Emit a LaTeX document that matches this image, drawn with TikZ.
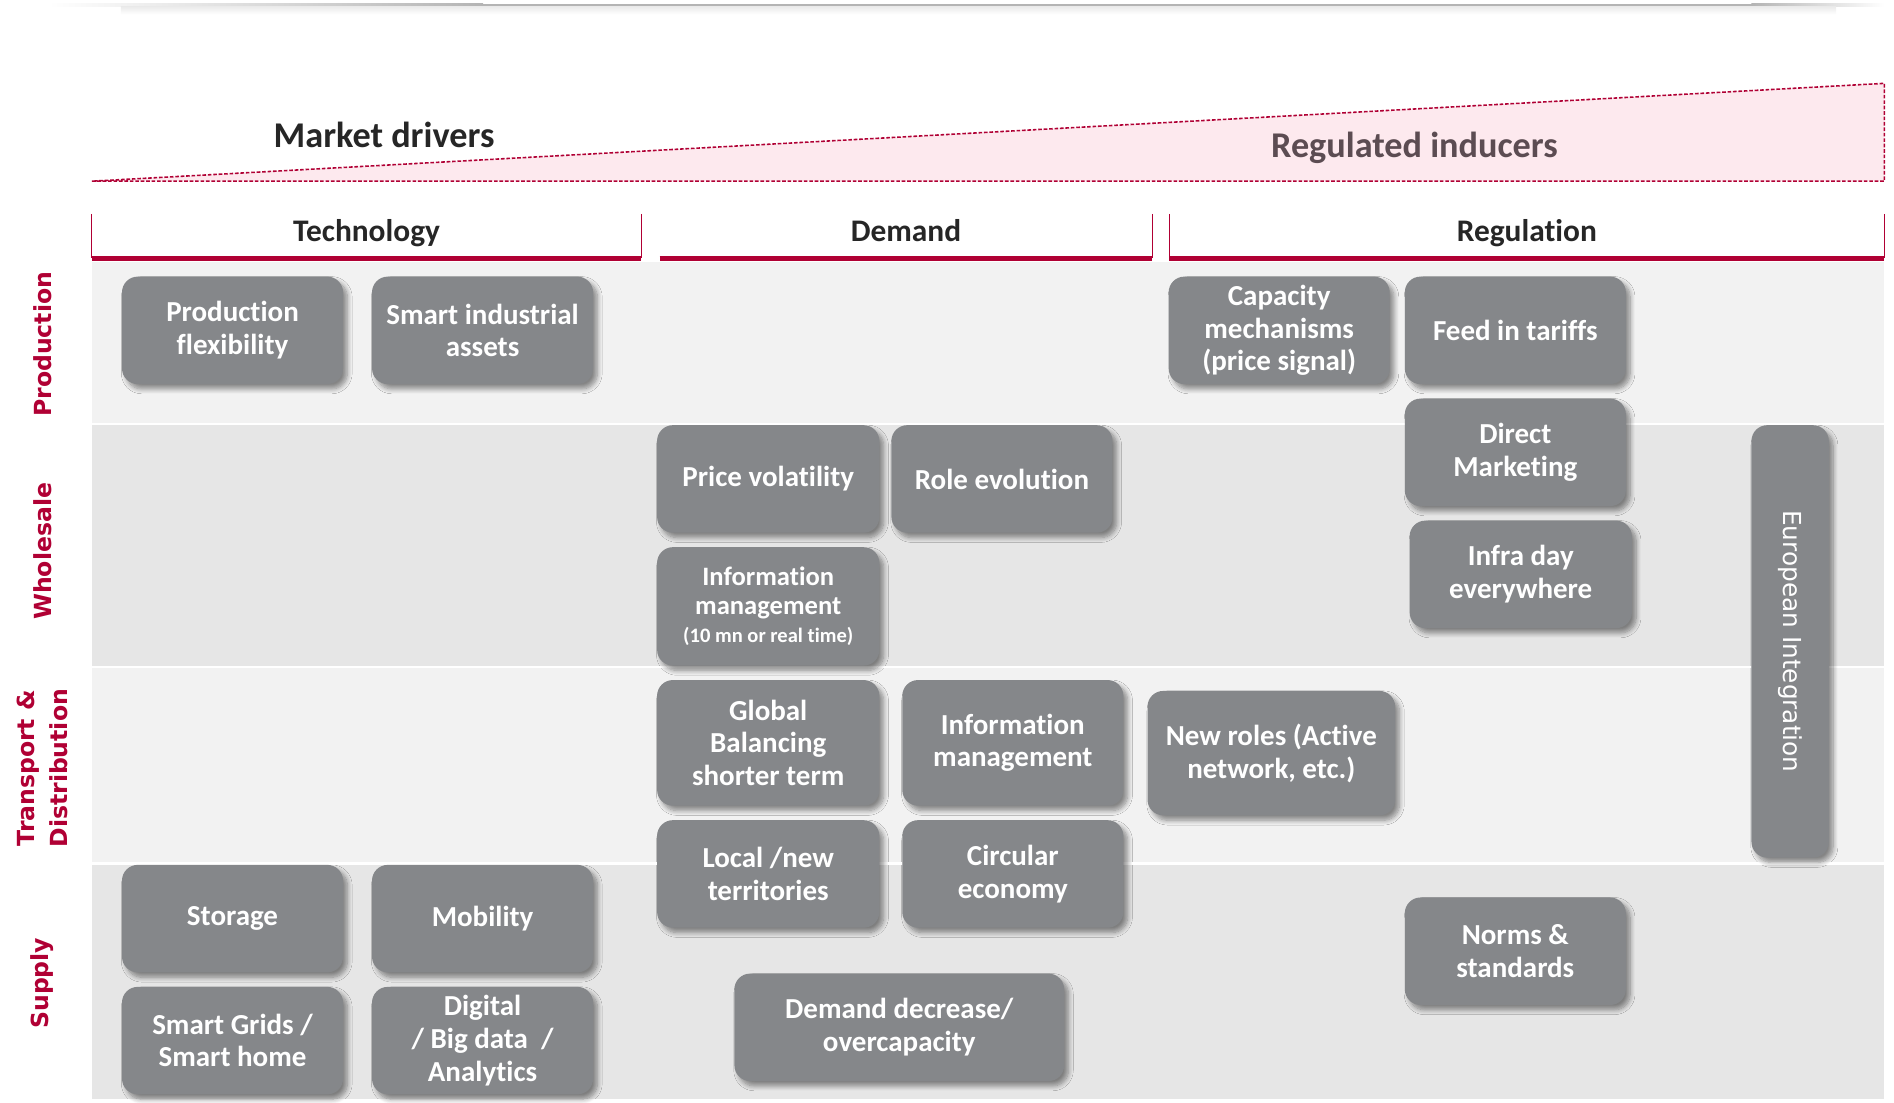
\documentclass[tikz,border=0pt]{standalone}
\usepackage{fontspec}
\usepackage{graphicx}
\usepackage{tikz}
\usetikzlibrary{shadows.blur}
\setmainfont{Carlito}[Ligatures=NoCommon]
\newfontfamily\labelfont{DejaVu Sans}

\definecolor{crimson}{HTML}{B00034}
\definecolor{boxgray}{HTML}{85878A}
\definecolor{bandlight}{HTML}{F2F2F2}
\definecolor{banddark}{HTML}{E6E6E6}
\definecolor{pinkfill}{HTML}{FDE9EE}
\definecolor{inducer}{HTML}{5C4C52}
\definecolor{rulegray}{HTML}{B4B4B4}

\begin{document}
\begin{tikzpicture}[x=1pt,y=-1pt,
    box/.style={rounded corners=13pt, fill=boxgray, text=white, align=center,
      font=\bfseries\fontsize{24}{27}\selectfont,
      minimum width=183pt, minimum height=89pt, inner sep=2pt,
      blur shadow={shadow xshift=3.5pt, shadow yshift=-4pt, shadow opacity=45,
        shadow blur radius=4pt, shadow blur steps=8}},
    colhead/.style={font=\bfseries\fontsize{26}{30}\selectfont, text=black!85,
      text height=17pt, text depth=5pt},
    rowlabel/.style={rotate=90, align=center, text=crimson,
      font=\labelfont\bfseries\fontsize{19.5}{27}\selectfont},
    headline/.style={draw=crimson, line width=0.8pt}]
  \useasboundingbox (0,0) rectangle (1568,913);

  % grey rule along the top edge, fading out at both ends
  \shade[left color=white, right color=rulegray] (40,3) rectangle (400,5.5);
  \fill[rulegray] (400,3) rectangle (1450,5.5);
  \shade[left color=rulegray, right color=white] (1450,3) rectangle (1560,5.5);
  \shade[top color=black!8, bottom color=white] (100,5.5) rectangle (1520,12);

  % market / regulation wedge
  \filldraw[fill=pinkfill, draw=crimson, line width=1.3pt, dash pattern=on 3pt off 1.5pt]
    (76,150) -- (1560,150) -- (1560,69) -- cycle;
  \node[font=\bfseries\fontsize{30}{34}\selectfont, text=black!85] (market) at (318,112) {Market drivers};
  \node[font=\bfseries\fontsize{30}{34}\selectfont, text=inducer] (regul) at (1171,122) {Regulated inducers};

  % column headers
  \draw[headline] (76,177) -- (76,214);
  \draw[headline] (531,177) -- (531,214);
  \draw[headline] (954,177) -- (954,214);
  \draw[headline] (968,177) -- (968,214);
  \draw[headline] (1560,177) -- (1560,214);
  \draw[crimson, line width=4.5pt] (76,214) -- (531,214);
  \draw[crimson, line width=4.5pt] (546,214) -- (954,214);
  \draw[crimson, line width=4.5pt] (968,214) -- (1560,214);
  \node[colhead] (tech) at (303.5,194) {Technology};
  \node[colhead] (demand) at (750,194) {Demand};
  \node[colhead] (regulation) at (1264,194) {Regulation};

  % row bands
  \fill[bandlight] (76,217) rectangle (1560,350);
  \fill[banddark] (76,352) rectangle (1560,551);
  \fill[bandlight] (76,553) rectangle (1560,714);
  \fill[banddark] (76,716) rectangle (1560,910);

  % row labels
  \node[rowlabel] (prod) at (35,285) {Production};
  \node[rowlabel] (whole) at (35,456.5) {Wholesale};
  \node[rowlabel] (td) at (35,636) {Transport \&\\Distribution};
  \node[rowlabel] (supply) at (35,814) {Supply};

  % production
  \node[box] (prodflex) at (192.5,273.5) {Production\\flexibility};
  \node[box] (smartind) at (399.5,273.5) {Smart industrial\\assets};
  \node[box] (capmech) at (1059,273.5) {Capacity\\mechanisms\\(price signal)};
  \node[box] (feedin) at (1254.5,273.5) {Feed in tariffs};

  % wholesale
  \node[box] (directmkt) at (1254.5,374.5) {Direct\\Marketing};
  \node[box, minimum width=184pt] (infraday) at (1259,475.5) {Infra day\\everywhere};
  \node[box, minimum width=184pt] (pricevol) at (636,396.5) {Price volatility};
  \node[box] (roleevo) at (829.5,396.5) {Role evolution};
  \node[box, minimum width=184pt, minimum height=98pt,
    font=\bfseries\fontsize{22}{23.5}\selectfont] (infowhole) at (636,502)
    {Information\\management\\{\fontsize{17}{20}\selectfont (10 mn or real time)}};

  % transport & distribution
  \node[box, minimum width=184pt, minimum height=104pt] (globalbal) at (636,615)
    {Global\\Balancing\\shorter term};
  \node[box, minimum height=104pt] (infotd) at (838.5,615) {Information\\management};
  \node[box, minimum width=205pt, minimum height=103pt] (newroles) at (1052.5,623.5)
    {New roles (Active\\network, etc.)};
  \node[box, minimum width=184pt] (localterr) at (636,723.5) {Local /new\\territories};
  \node[box] (circular) at (838.5,723.5) {Circular\\economy};

  % supply
  \node[box] (storage) at (192.5,760.5) {Storage};
  \node[box] (mobility) at (399.5,760.5) {Mobility};
  \node[box] (smartgrid) at (192.5,861.5) {Smart Grids /\\Smart home};
  \node[box] (digital) at (399.5,861.5) {Digital\\/ Big data~~/\\Analytics};
  \node[box, minimum width=273pt] (demanddec) at (744.5,850.5) {Demand decrease/\\overcapacity};
  \node[box] (norms) at (1254.5,787.5) {Norms \&\\standards};

  % spans several rows
  \node[box, minimum width=64pt, minimum height=358pt,
    font=\labelfont\fontsize{20.5}{24}\selectfont] (euro) at (1482,531)
    {\rotatebox{-90}{European Integration}};
\end{tikzpicture}
\end{document}
